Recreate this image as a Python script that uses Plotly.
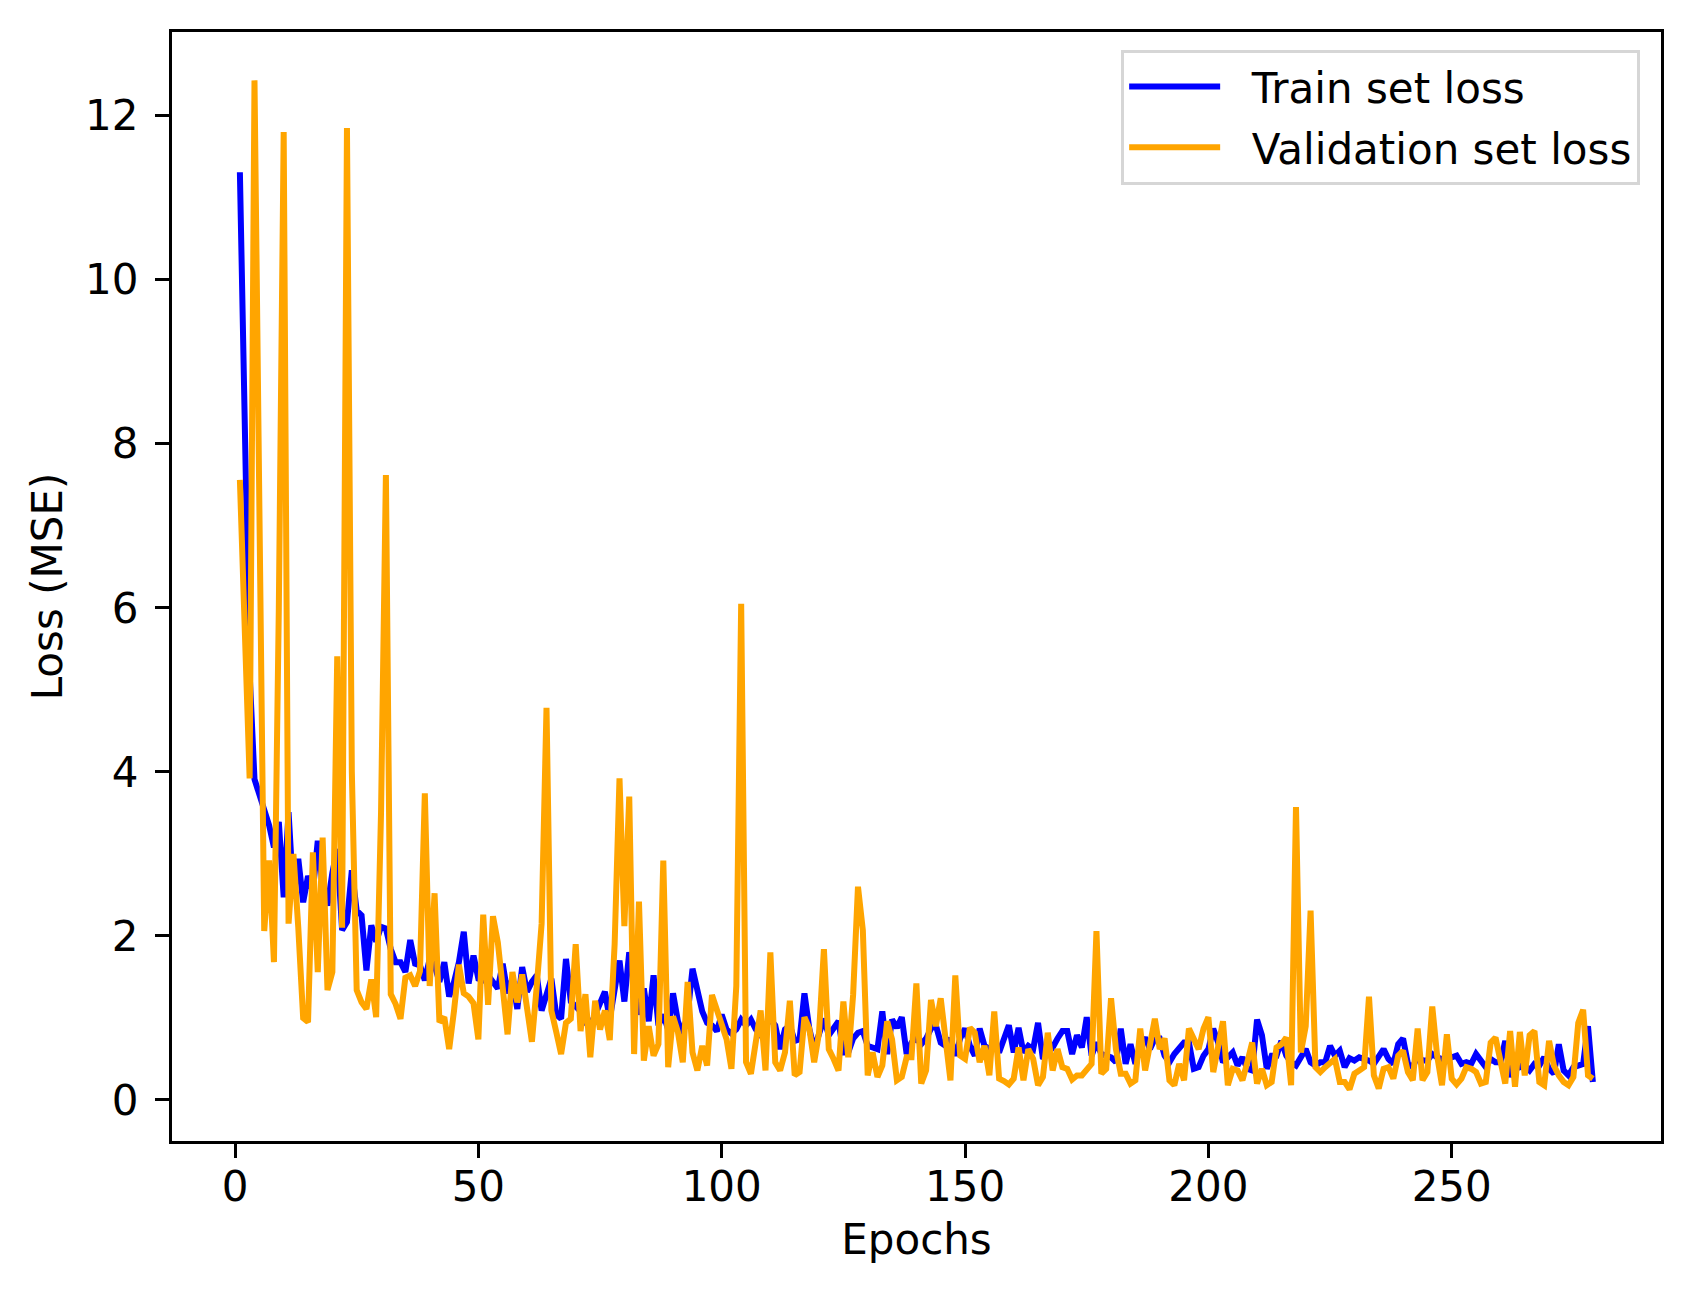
import plotly.graph_objects as go

# Loss values per epoch
epochs = list(range(1, 280))

train_loss = [
    11.31, 7.9, 5.2, 3.91, 3.71, 3.51, 3.35, 3.08, 3.39, 2.47,      # 1-10
    3.51, 2.49, 2.94, 2.41, 2.73, 2.55, 3.16, 2.61, 2.37, 2.77,     # 11-20
    3.06, 2.07, 2.17, 2.8, 2.31, 2.25, 1.58, 2.13, 1.93, 2.11,      # 21-30
    2.09, 1.84, 1.68, 1.68, 1.56, 1.95, 1.66, 1.64, 1.46, 1.72,     # 31-40
    1.64, 1.44, 1.68, 1.26, 1.44, 1.68, 2.05, 1.42, 1.76, 1.48,     # 41-50
    1.46, 1.52, 1.44, 1.36, 1.66, 1.3, 1.48, 1.11, 1.62, 1.32,      # 51-60
    1.44, 1.52, 1.09, 1.29, 1.48, 1.04, 0.99, 1.72, 1.2, 1.14,      # 61-70
    1.08, 0.94, 0.91, 1.04, 1.19, 1.32, 0.99, 1.34, 1.7, 1.2,       # 71-80
    1.8, 1.48, 1.04, 1.36, 0.96, 1.52, 0.91, 1.04, 0.86, 1.3,       # 81-90
    0.96, 0.81, 1.04, 1.6, 1.36, 1.08, 0.94, 0.91, 0.84, 1.04,      # 91-100
    0.86, 0.81, 0.86, 0.98, 0.91, 0.98, 0.86, 0.79, 0.91, 0.98,     # 101-110
    0.91, 0.62, 0.86, 0.91, 0.72, 0.74, 1.3, 0.87, 0.62, 0.79,      # 111-120
    0.99, 0.79, 0.87, 0.96, 0.58, 0.58, 0.75, 0.82, 0.84, 0.66,     # 121-130
    0.64, 0.62, 1.08, 0.56, 0.98, 0.88, 1.01, 0.56, 0.7, 0.75,      # 131-140
    0.68, 0.75, 0.87, 0.91, 0.7, 0.66, 0.75, 0.54, 0.75, 0.87,      # 141-150
    0.66, 0.54, 0.87, 0.66, 0.62, 0.7, 0.58, 0.75, 0.91, 0.58,      # 151-160
    0.88, 0.58, 0.66, 0.62, 0.94, 0.5, 0.56, 0.64, 0.75, 0.84,      # 161-170
    0.84, 0.56, 0.79, 0.64, 1.01, 0.54, 0.7, 0.56, 0.54, 0.52,      # 171-180
    0.46, 0.87, 0.44, 0.68, 0.44, 0.66, 0.76, 0.62, 0.75, 0.75,     # 181-190
    0.54, 0.46, 0.56, 0.64, 0.7, 0.7, 0.38, 0.4, 0.54, 0.62,        # 191-200
    0.87, 0.7, 0.46, 0.52, 0.58, 0.42, 0.52, 0.38, 0.36, 0.98,      # 201-210
    0.79, 0.38, 0.54, 0.54, 0.72, 0.54, 0.46, 0.42, 0.54, 0.62,     # 211-220
    0.46, 0.42, 0.46, 0.46, 0.66, 0.54, 0.6, 0.4, 0.51, 0.48,       # 221-230
    0.52, 0.5, 0.48, 0.44, 0.52, 0.62, 0.5, 0.44, 0.68, 0.75,       # 231-240
    0.44, 0.4, 0.54, 0.48, 0.48, 0.56, 0.52, 0.5, 0.5, 0.52,        # 241-250
    0.54, 0.44, 0.46, 0.44, 0.56, 0.48, 0.4, 0.5, 0.46, 0.46,       # 251-260
    0.72, 0.28, 0.48, 0.4, 0.42, 0.36, 0.44, 0.42, 0.52, 0.38,      # 261-270
    0.32, 0.68, 0.36, 0.3, 0.4, 0.42, 0.44, 0.9, 0.22,              # 271-279
]

val_loss = [
    7.56, 5.7, 3.92, 12.43, 7.0, 2.06, 2.92, 1.68, 6.0, 11.8,       # 1-10
    2.15, 3.0, 2.1, 1.0, 0.95, 3.02, 1.56, 3.2, 1.34, 1.56,         # 11-20
    5.41, 2.1, 11.85, 4.0, 1.34, 1.19, 1.11, 1.47, 1.01, 3.5,       # 21-30
    7.62, 1.29, 1.17, 0.99, 1.49, 1.52, 1.39, 1.57, 3.74, 1.39,     # 31-40
    2.52, 0.95, 1.01, 0.62, 1.09, 1.65, 1.3, 1.26, 1.18, 0.74,      # 41-50
    2.26, 1.16, 2.24, 1.92, 1.37, 0.8, 1.56, 1.19, 1.53, 1.09,      # 51-60
    0.71, 1.39, 2.15, 4.78, 1.09, 0.83, 0.56, 0.94, 0.99, 1.9,      # 61-70
    0.84, 1.29, 0.52, 1.21, 0.86, 1.09, 0.73, 1.9, 3.92, 2.12,      # 71-80
    3.7, 0.56, 2.42, 0.48, 0.9, 0.54, 0.68, 2.92, 0.4, 1.02,        # 81-90
    0.83, 0.46, 1.44, 0.58, 0.36, 0.66, 0.42, 1.28, 1.09, 0.9,      # 91-100
    0.74, 0.38, 1.39, 6.05, 0.46, 0.32, 0.66, 1.09, 0.36, 1.8,      # 101-110
    0.46, 0.36, 0.58, 1.21, 0.3, 0.34, 1.01, 0.87, 0.46, 0.82,      # 111-120
    1.84, 0.62, 0.5, 0.36, 1.2, 0.52, 1.28, 2.6, 2.07, 0.3,         # 121-130
    0.58, 0.28, 0.42, 0.96, 0.74, 0.24, 0.28, 0.52, 0.52, 1.42,     # 131-140
    0.2, 0.36, 1.22, 0.9, 1.24, 0.72, 0.24, 1.52, 0.54, 0.5,        # 141-150
    0.88, 0.82, 0.46, 0.66, 0.3, 1.08, 0.26, 0.23, 0.19, 0.26,      # 151-160
    0.64, 0.24, 0.62, 0.5, 0.18, 0.28, 0.82, 0.36, 0.62, 0.4,       # 161-170
    0.38, 0.25, 0.3, 0.3, 0.36, 0.44, 2.06, 0.32, 0.38, 1.24,       # 171-180
    0.62, 0.32, 0.32, 0.2, 0.24, 0.87, 0.36, 0.66, 0.99, 0.62,      # 181-190
    0.75, 0.24, 0.18, 0.44, 0.24, 0.87, 0.75, 0.62, 0.87, 1.01,     # 191-200
    0.34, 0.68, 0.96, 0.18, 0.38, 0.36, 0.24, 0.46, 0.7, 0.2,       # 201-210
    0.38, 0.18, 0.22, 0.64, 0.68, 0.76, 0.18, 3.57, 0.58, 0.9,      # 211-220
    2.31, 0.4, 0.34, 0.4, 0.46, 0.5, 0.22, 0.22, 0.13, 0.32,        # 221-230
    0.36, 0.4, 1.26, 0.3, 0.14, 0.38, 0.4, 0.26, 0.54, 0.6,         # 231-240
    0.34, 0.24, 0.87, 0.24, 0.34, 1.14, 0.54, 0.18, 0.8, 0.26,      # 241-250
    0.19, 0.26, 0.4, 0.38, 0.34, 0.2, 0.22, 0.7, 0.76, 0.46,        # 251-260
    0.2, 0.84, 0.16, 0.83, 0.3, 0.79, 0.84, 0.22, 0.18, 0.72,       # 261-270
    0.42, 0.3, 0.22, 0.18, 0.28, 0.94, 1.1, 0.3, 0.26,              # 271-279
]

x_ticks = [0, 50, 100, 150, 200, 250]
y_ticks = [0, 2, 4, 6, 8, 10, 12]

font = dict(family="DejaVu Sans", size=42, color="black")

fig = go.Figure()
# the two no-break spaces only widen the gap between legend line and text
fig.add_trace(go.Scatter(x=epochs, y=train_loss, mode="lines",
                         name="\u00a0\u00a0Train set loss",
                         legendgroup="train", line=dict(color="blue", width=6)))
fig.add_trace(go.Scatter(x=epochs, y=val_loss, mode="lines",
                         name="\u00a0\u00a0Validation set loss",
                         legendgroup="val", line=dict(color="orange", width=6)))

axis_style = dict(showline=True, mirror=True, linecolor="black", linewidth=3.3,
                  ticks="outside", ticklen=14, tickwidth=3.3, tickcolor="black",
                  showgrid=False, zeroline=False, tickfont=font)

fig.update_xaxes(range=[-12.95, 293.0], tickvals=x_ticks, ticklabelstandoff=-8,
                 title=dict(text="Epochs", font=font, standoff=16), **axis_style)
fig.update_yaxes(range=[-0.5, 13.02], tickvals=y_ticks, ticklabelstandoff=8,
                 title=dict(text="Loss (MSE)", font=font, standoff=10), **axis_style)

fig.update_layout(
    width=1686, height=1294,
    margin=dict(l=164, r=33, t=24, b=161),
    plot_bgcolor="white", paper_bgcolor="white",
    font=font,
    showlegend=True,
    legend=dict(x=0.986, y=0.984, xanchor="right", yanchor="top",
                bgcolor="white", bordercolor="#d6d6d6", borderwidth=3,
                font=font, itemwidth=91, tracegroupgap=3),
)

fig.write_html("out.html")
